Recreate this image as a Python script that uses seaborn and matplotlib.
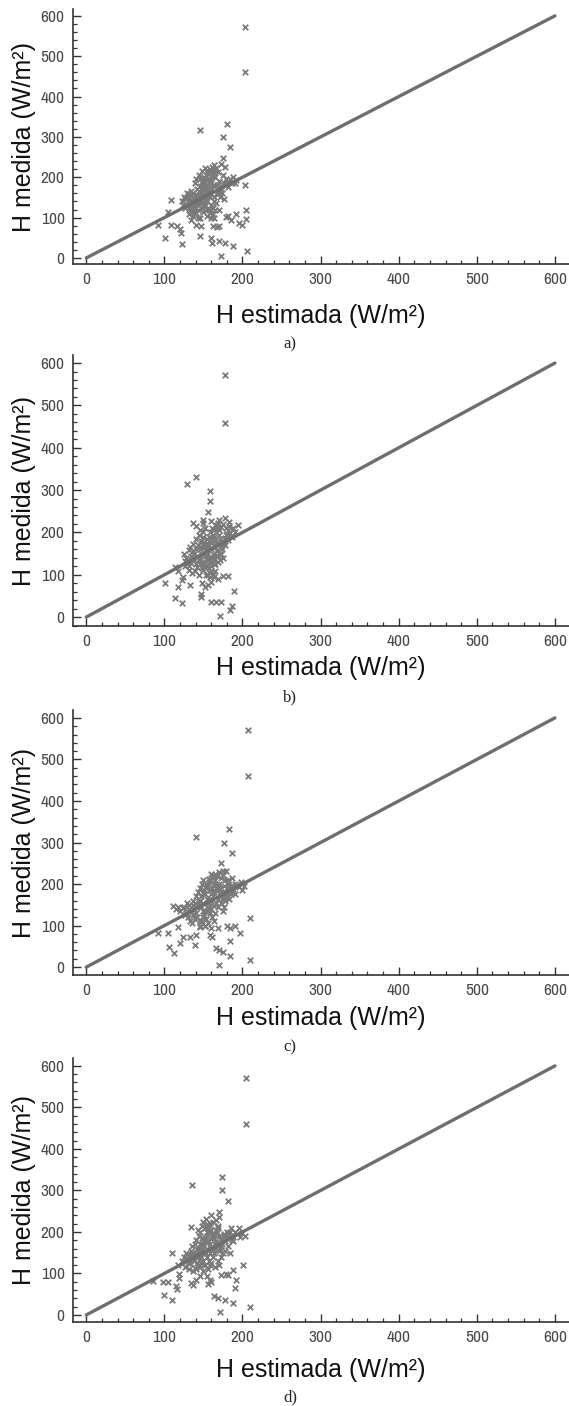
import seaborn as sns
import matplotlib.pyplot as plt
from matplotlib.ticker import MultipleLocator
import pandas as pd

sns.set_style("ticks")
plt.rcParams["font.family"] = ["Liberation Sans", "DejaVu Sans"]

# 1:1 reference line
line_vals = [0, 600]

# Panel a) points: (H estimada, H medida)
pts_a = [
    (125, 150), (128, 145), (122, 140), (130, 132), (127, 125), (133, 118), (131, 110), (136, 105),
    (138, 128), (135, 140), (140, 150), (137, 160), (142, 172), (139, 185), (141, 195), (144, 205),
    (146, 198), (148, 188), (145, 178), (150, 170), (147, 162), (152, 155), (149, 148), (154, 140),
    (151, 132), (156, 125), (153, 118), (158, 112), (143, 120), (140, 112), (146, 135), (155, 165),
    (158, 175), (160, 185), (157, 195), (162, 205), (159, 215), (161, 225), (164, 230), (166, 222),
    (168, 212), (165, 200), (170, 190), (167, 180), (172, 172), (169, 165), (174, 160), (171, 150),
    (176, 145), (163, 140), (160, 130), (165, 120), (162, 110), (167, 160), (158, 150), (150, 182),
    (153, 192), (156, 208), (148, 215), (152, 222), (134, 165), (131, 158), (136, 150), (129, 162),
    (180, 188), (184, 195), (188, 200), (192, 192), (186, 185), (178, 180), (182, 176), (190, 186),
    (175, 205), (178, 225), (173, 232), (144, 145), (142, 138), (148, 125), (150, 115), (155, 105),
    (134, 95), (145, 100), (160, 100), (124, 132), (132, 148),
    (132, 125), (134, 130), (136, 120), (138, 115), (141, 125), (143, 132), (145, 142), (147, 152),
    (149, 158), (151, 168), (153, 175), (155, 182), (157, 188), (159, 195), (161, 200), (163, 212),
    (165, 218), (158, 220), (154, 212), (151, 200), (149, 192), (147, 172), (144, 165), (142, 155),
    (139, 145), (137, 135), (133, 138), (130, 142), (127, 148), (159, 165), (161, 172), (163, 180),
    (156, 158), (153, 145), (150, 138), (152, 128), (157, 118), (162, 125), (166, 135), (164, 150),
    (169, 158), (171, 168), (173, 178), (176, 185), (179, 195), (182, 190),
    (203, 572), (203, 460), (146, 316), (180, 332), (175, 301), (184, 275), (175, 247), (203, 181),
    (109, 144), (105, 115), (92, 82), (101, 50), (123, 35), (109, 82), (116, 78), (120, 72), (121, 63),
    (145, 54), (141, 82), (147, 78), (160, 49), (161, 38), (170, 43), (177, 36), (188, 30), (173, 6),
    (206, 16), (162, 78), (167, 76), (170, 79), (179, 101), (182, 104), (185, 94), (192, 108),
    (196, 86), (170, 119), (164, 98), (204, 119), (204, 97), (199, 82), (143, 98), (139, 115),
]

# Panel b)
pts_b = [
    (125, 150), (128, 140), (130, 130), (127, 120), (132, 112), (135, 105), (134, 145), (136, 155),
    (138, 135), (140, 125), (142, 118), (139, 110), (144, 100), (146, 140), (148, 150), (145, 160),
    (143, 170), (147, 180), (150, 190), (149, 200), (152, 210), (151, 165), (153, 155), (155, 145),
    (154, 135), (156, 125), (157, 115), (158, 105), (160, 120), (159, 130), (161, 140), (162, 150),
    (160, 160), (163, 170), (165, 180), (164, 190), (166, 200), (168, 210), (167, 218), (170, 195),
    (171, 185), (169, 175), (172, 168), (174, 160), (173, 150), (175, 140), (176, 178), (178, 188),
    (180, 196), (182, 205), (184, 198), (186, 190), (181, 182), (177, 170), (179, 210), (175, 220),
    (183, 215), (188, 210), (190, 200), (141, 185), (137, 172), (133, 165), (131, 158), (126, 132),
    (129, 125), (150, 112), (153, 100), (158, 95), (165, 110), (162, 100), (168, 130), (166, 145),
    (157, 170), (155, 185), (144, 195), (146, 205), (140, 215), (150, 222), (160, 228), (148, 128),
    (152, 118), (163, 125), (171, 135),
    (132, 120), (134, 128), (136, 140), (138, 150), (140, 160), (142, 145), (144, 135), (146, 125),
    (148, 115), (150, 130), (152, 145), (154, 158), (156, 168), (158, 178), (160, 188), (162, 195),
    (164, 205), (166, 215), (168, 222), (161, 210), (159, 200), (157, 190), (155, 175), (153, 168),
    (151, 178), (149, 170), (147, 165), (163, 180), (165, 165), (167, 155), (169, 145), (171, 150),
    (173, 165), (175, 175), (177, 185), (179, 195), (170, 205), (172, 212), (163, 135), (165, 125),
    (160, 110), (156, 100), (158, 140), (154, 120),
    (178, 572), (178, 459), (129, 314), (140, 330), (158, 298), (158, 275), (156, 249), (149, 229),
    (137, 223), (170, 229), (177, 235), (183, 225), (194, 217), (101, 80), (114, 46), (123, 34),
    (118, 72), (122, 88), (124, 95), (133, 75), (148, 80), (152, 72), (156, 75), (160, 83), (163, 95),
    (169, 91), (175, 97), (181, 97), (147, 48), (147, 54), (160, 36), (166, 36), (173, 36), (171, 3),
    (184, 16), (186, 26), (189, 61), (113, 118), (118, 110),
]

# Panel c)
pts_c = [
    (115, 140), (120, 135), (125, 145), (128, 130), (130, 120), (133, 112), (135, 105), (132, 150),
    (136, 160), (138, 140), (140, 130), (142, 120), (145, 110), (140, 170), (143, 180), (146, 190),
    (148, 200), (150, 210), (152, 175), (154, 165), (150, 155), (147, 145), (149, 135), (151, 125),
    (153, 115), (156, 105), (158, 150), (160, 160), (157, 140), (159, 130), (161, 120), (163, 110),
    (162, 170), (164, 180), (166, 190), (163, 200), (165, 210), (167, 220), (160, 225), (170, 230),
    (172, 215), (170, 200), (168, 185), (171, 175), (174, 165), (173, 155), (176, 145), (175, 135),
    (178, 180), (180, 190), (182, 200), (185, 195), (188, 188), (190, 200), (193, 198), (196, 192),
    (199, 185), (202, 195), (198, 205), (185, 175), (180, 170), (178, 160), (183, 165), (155, 195),
    (144, 160), (146, 150), (155, 135), (137, 125), (134, 135), (126, 125), (129, 155), (139, 115),
    (145, 100), (152, 100), (165, 130), (168, 145), (158, 185), (161, 190), (157, 212), (175, 222),
    (178, 210), (186, 215), (190, 175),
    (131, 140), (134, 145), (137, 150), (139, 155), (141, 145), (143, 150), (145, 160), (147, 170),
    (149, 178), (151, 185), (153, 190), (155, 200), (157, 205), (159, 210), (161, 215), (163, 220),
    (165, 225), (167, 198), (169, 192), (171, 188), (173, 182), (175, 172), (177, 168), (179, 175),
    (181, 180), (183, 188), (186, 182), (188, 195), (160, 175), (162, 180), (158, 165), (156, 155),
    (154, 145), (152, 135), (150, 120), (148, 112), (160, 140), (163, 148), (166, 155), (169, 165),
    (176, 195), (182, 210),
    (207, 572), (207, 459), (183, 332), (141, 314), (176, 300), (187, 275), (172, 250), (175, 232),
    (179, 232), (209, 119), (111, 148), (118, 144), (124, 142), (92, 81), (105, 81), (118, 97),
    (106, 49), (112, 34), (120, 57), (124, 73), (133, 73), (140, 78), (139, 53), (146, 97), (152, 99),
    (160, 93), (169, 95), (158, 77), (161, 72), (166, 46), (170, 40), (175, 36), (184, 27), (170, 5),
    (180, 99), (184, 93), (190, 99), (197, 81), (184, 63), (209, 17),
]

# Panel d)
pts_d = [
    (118, 120), (122, 130), (125, 140), (128, 135), (126, 115), (130, 125), (132, 145), (134, 155),
    (131, 110), (136, 105), (138, 130), (140, 140), (137, 150), (142, 160), (139, 170), (141, 180),
    (144, 190), (146, 200), (143, 205), (148, 215), (150, 225), (153, 230), (155, 220), (152, 210),
    (157, 200), (154, 190), (156, 180), (158, 170), (155, 160), (150, 150), (147, 140), (149, 130),
    (152, 120), (145, 115), (150, 105), (156, 110), (160, 125), (162, 140), (159, 150), (163, 160),
    (165, 170), (161, 185), (164, 195), (166, 205), (168, 215), (162, 225), (170, 190), (172, 180),
    (174, 170), (171, 160), (175, 150), (173, 140), (168, 130), (176, 195), (180, 200), (183, 185),
    (186, 190), (190, 200), (193, 195), (197, 188), (200, 198), (203, 190), (188, 178), (181, 165),
    (178, 155), (184, 150), (170, 235), (160, 240), (166, 228), (135, 165), (133, 125), (128, 150),
    (145, 170), (148, 185), (153, 175), (158, 215), (142, 125), (139, 112), (165, 115), (170, 120),
    (177, 178), (195, 210), (185, 210),
    (130, 135), (133, 140), (135, 145), (137, 140), (140, 150), (142, 145), (144, 155), (146, 160),
    (148, 170), (150, 175), (152, 185), (154, 200), (156, 210), (158, 222), (160, 205), (162, 195),
    (164, 185), (166, 175), (168, 165), (170, 155), (172, 165), (174, 182), (176, 188), (178, 192),
    (180, 185), (182, 195), (184, 200), (186, 180), (149, 160), (151, 165), (153, 150), (155, 140),
    (157, 130), (159, 120), (147, 125), (145, 135), (143, 120), (141, 110), (161, 160), (163, 150),
    (167, 200), (169, 210),
    (205, 572), (205, 460), (174, 333), (135, 313), (174, 300), (182, 275), (170, 249), (134, 211),
    (110, 150), (98, 80), (105, 80), (85, 82), (100, 48), (110, 36), (115, 70), (116, 62), (119, 98),
    (119, 90), (134, 76), (137, 73), (140, 85), (145, 95), (155, 95), (158, 85), (156, 75), (160, 80),
    (163, 46), (168, 40), (177, 36), (188, 29), (171, 6), (172, 96), (179, 99), (182, 96), (188, 108),
    (192, 83), (190, 64), (201, 120), (209, 19),
]

panels = [("a)", pts_a), ("b)", pts_b), ("c)", pts_c), ("d)", pts_d)]

# layout in pixels (figure is 569 x 1406): axes top/bottom, y-limits, label rows
W, H = 569, 1406
ax_left = 73
layout = [
    # top, bottom, ylim, xlabel_y, sub_y
    (9, 264, (-15, 617), 316, 344),
    (355, 626, (-21, 619), 668, 697),
    (710, 975, (-19, 619), 1018, 1047),
    (1058, 1322, (-17, 619), 1370, 1397),
]

fig = plt.figure(figsize=(W / 100, H / 100), dpi=100)
tick_font = ["Archivo Narrow", "Liberation Sans", "DejaVu Sans"]

for (tag, pts), (top, bot, ylim, xl_y, sub_y) in zip(panels, layout):
    ax = fig.add_axes([ax_left / W, 1 - bot / H, 1 - ax_left / W, (bot - top) / H])
    df = pd.DataFrame(pts, columns=["estimada", "medida"])
    sns.lineplot(x=line_vals, y=line_vals, ax=ax, color="#6e6e6e", linewidth=2.4)
    sns.scatterplot(data=df, x="estimada", y="medida", ax=ax, marker="x",
                    color="#7a7a7a", s=16, linewidth=1.3)
    ax.set_xlim(-17, 618)
    ax.set_ylim(*ylim)
    ax.xaxis.set_major_locator(MultipleLocator(100))
    ax.xaxis.set_minor_locator(MultipleLocator(20))
    ax.yaxis.set_major_locator(MultipleLocator(100))
    ax.yaxis.set_minor_locator(MultipleLocator(20))
    ax.tick_params(which="major", direction="in", length=6, width=1.0,
                   color="#333333", labelcolor="#4a4a4a", labelsize=12.5)
    ax.tick_params(which="minor", direction="in", length=3, width=0.9, color="#333333")
    ax.tick_params(axis="x", pad=6)
    ax.tick_params(axis="y", pad=6)
    for lab in ax.get_xticklabels() + ax.get_yticklabels():
        lab.set_family(tick_font)
    sns.despine(ax=ax)
    for side in ["left", "bottom"]:
        ax.spines[side].set_color("#333333")
        ax.spines[side].set_linewidth(1.2)
    ax.set_xlabel("")
    ax.set_ylabel("")

    fig.text((ax_left + W) / 2 / W, 1 - xl_y / H, "H estimada (W/m²)",
             ha="center", va="center", fontsize=18, color="#111111")
    fig.text(24 / W, 1 - (top + bot) / 2 / H, "H medida (W/m²)", rotation=90,
             ha="center", va="center", fontsize=18, color="#111111")
    fig.text(290 / W, 1 - sub_y / H, tag, ha="center", va="center", fontsize=12,
             family=["Liberation Serif", "DejaVu Serif"])

fig.savefig("out.png", dpi=100)
plt.close(fig)
